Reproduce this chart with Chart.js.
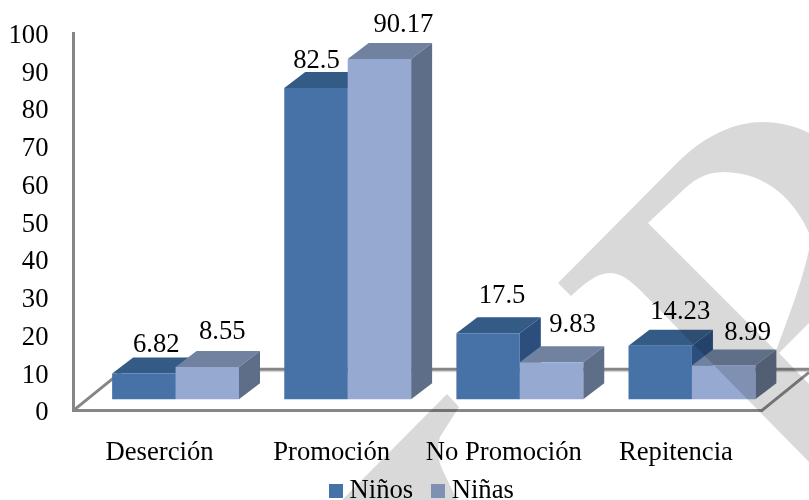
<!DOCTYPE html>
<html>
<head>
<meta charset="utf-8">
<style>
  html, body { margin: 0; padding: 0; background: #fff; }
  canvas { display: block; }
</style>
<script src="https://cdn.jsdelivr.net/npm/chart.js@4/dist/chart.umd.min.js"></script>
</head>
<body>
<canvas id="myChart" width="809" height="500"></canvas>
<script>
// Chart data
const categories = ['Deserción', 'Promoción', 'No Promoción', 'Repitencia'];
const ninos = [6.82, 82.5, 17.5, 14.23];
const ninas = [8.55, 90.17, 9.83, 8.99];
const seriesNames = ['Niños', 'Niñas'];

const axisGray = '#868686';
const frontColors = ['#4672A8', '#95A9D1'];
const topColors = ['#345A86', '#70829F'];
const sideColors = ['#2B4E7C', '#5F6E88'];

// 3D look: the bars stand in the middle of the floor, the faces go back by depthX/depthY
const barShiftX = 16, barShiftY = -11;
const depthX = 21, depthY = -16;
const floorX = 47, floorY = -38;

// Value labels were dragged by hand in the original, so each has its own nudge
const labelNudges = [
    [[12.5, -29], [0.5, -27], [14, -37], [20, -34]],
    [[15, -35], [24, -34], [21, -37], [24, -32]]
];

const swatch = (color) => {
    const c = document.createElement('canvas');
    c.width = 14;
    c.height = 14;
    const g = c.getContext('2d');
    g.fillStyle = color;
    g.fillRect(0, 0, 14, 14);
    return c;
};

// Floor lines, top and side faces of the bars, then shift everything to the middle of the floor
const floorPlugin = {
    id: 'floor',
    beforeDatasetsDraw(chart) {
        const { ctx, chartArea: a } = chart;
        const backY = a.bottom + floorY - 3;
        ctx.save();
        ctx.strokeStyle = '#D9D9D9';
        ctx.lineWidth = 2;
        ctx.beginPath();
        ctx.moveTo(a.left + floorX, backY + 2);
        ctx.lineTo(chart.width, backY + 2);
        ctx.stroke();
        ctx.strokeStyle = axisGray;
        ctx.lineWidth = 3;
        ctx.beginPath();
        ctx.moveTo(a.left + floorX, backY);
        ctx.lineTo(chart.width, backY);
        ctx.stroke();
        ctx.beginPath();
        ctx.moveTo(a.left, a.bottom);
        ctx.lineTo(a.left + floorX, a.bottom + floorY);
        ctx.moveTo(a.right, a.bottom);
        ctx.lineTo(a.right + floorX, a.bottom + floorY);
        ctx.stroke();
        ctx.restore();
        ctx.save();
        ctx.translate(barShiftX, barShiftY);
        chart.data.datasets.forEach((ds, i) => {
            chart.getDatasetMeta(i).data.forEach((bar) => {
                const left = bar.x - bar.width / 2;
                const right = bar.x + bar.width / 2;
                ctx.fillStyle = topColors[i];
                ctx.beginPath();
                ctx.moveTo(left, bar.y);
                ctx.lineTo(left + depthX, bar.y + depthY);
                ctx.lineTo(right + depthX, bar.y + depthY);
                ctx.lineTo(right, bar.y);
                ctx.fill();
                ctx.fillStyle = sideColors[i];
                ctx.beginPath();
                ctx.moveTo(right, bar.y);
                ctx.lineTo(right + depthX, bar.y + depthY);
                ctx.lineTo(right + depthX, bar.base + depthY);
                ctx.lineTo(right, bar.base);
                ctx.fill();
            });
        });
    },
    afterDatasetsDraw(chart) {
        chart.ctx.restore();
    }
};

const valueLabelPlugin = {
    id: 'valueLabels',
    afterDraw(chart) {
        const ctx = chart.ctx;
        ctx.save();
        ctx.font = '26.67px "Liberation Serif"';
        ctx.fillStyle = '#000';
        ctx.textAlign = 'center';
        ctx.textBaseline = 'middle';
        chart.data.datasets.forEach((ds, i) => {
            chart.getDatasetMeta(i).data.forEach((bar, j) => {
                const nudge = labelNudges[i][j];
                ctx.fillText(ds.data[j], bar.x + barShiftX + nudge[0], bar.y + barShiftY + nudge[1]);
            });
        });
        ctx.restore();
    }
};

// Gray letter shapes of the watermark, multiplied over everything
const watermarkPlugin = {
    id: 'watermark',
    afterDraw(chart) {
        const ctx = chart.ctx;
        ctx.save();
        ctx.globalCompositeOperation = 'multiply';
        ctx.fillStyle = '#D9D9D9';
        ctx.beginPath();
        ctx.moveTo(558, 283);
        ctx.lineTo(677, 163);
        ctx.bezierCurveTo(705, 135, 735, 122, 763, 122);
        ctx.bezierCurveTo(780, 122, 795, 126, 809, 133);
        ctx.lineTo(809, 233);
        ctx.bezierCurveTo(797, 205, 770, 172, 723, 172);
        ctx.bezierCurveTo(705, 172, 692, 181, 680, 193);
        ctx.lineTo(648, 223);
        ctx.lineTo(776, 351);
        ctx.bezierCurveTo(785, 325, 800, 290, 809, 250);
        ctx.lineTo(809, 323);
        ctx.lineTo(779, 353);
        ctx.lineTo(809, 384);
        ctx.lineTo(809, 462);
        ctx.lineTo(640, 290);
        ctx.bezierCurveTo(630, 280, 620, 273, 610, 273);
        ctx.bezierCurveTo(597, 273, 585, 283, 571, 296);
        ctx.closePath();
        ctx.moveTo(447, 394);
        ctx.lineTo(459, 407);
        ctx.lineTo(440, 437);
        ctx.bezierCurveTo(436, 450, 438, 462, 445, 475);
        ctx.lineTo(457, 500);
        ctx.lineTo(342, 500);
        ctx.closePath();
        ctx.fill();
        ctx.restore();
    }
};

// Legend sits off-centre in the original, y tick labels a bit lower than their ticks
const nudgePlugin = {
    id: 'nudge',
    afterLayout(chart) {
        chart.legend.left += 44;
        chart.legend.right += 44;
        chart.legend.top = 452.5;
    },
    beforeDraw(chart) {
        chart.scales.y.getLabelItems().forEach((item) => {
            item.options.translation[1] += 3;
        });
    }
};

Chart.defaults.font.family = '"Liberation Serif"';
Chart.defaults.font.size = 26.67;
Chart.defaults.color = '#000';

const makeDataset = (i, values) => ({
    label: seriesNames[i],
    data: values,
    backgroundColor: frontColors[i],
    clip: false,
    categoryPercentage: 0.737,
    barPercentage: 1
});

new Chart(document.getElementById('myChart').getContext('2d'), {
    type: 'bar',
    data: {
        labels: categories,
        datasets: [makeDataset(0, ninos), makeDataset(1, ninas)]
    },
    plugins: [floorPlugin, valueLabelPlugin, watermarkPlugin, nudgePlugin],
    options: {
        responsive: false,
        animation: false,
        layout: { padding: { top: 21.5, right: 47, bottom: -34, left: 0 } },
        plugins: {
            tooltip: { enabled: false },
            legend: {
                position: 'bottom',
                labels: {
                    usePointStyle: true,
                    pointStyleWidth: 0.1,
                    padding: 25,
                    generateLabels: (chart) =>
                        Chart.defaults.plugins.legend.labels.generateLabels(chart).map((item) => ({
                            ...item,
                            pointStyle: swatch(frontColors[item.datasetIndex])
                        }))
                }
            }
        },
        scales: {
            x: {
                grid: { display: false },
                border: { color: axisGray, width: 3 },
                ticks: { padding: 19, maxRotation: 0, autoSkip: false },
                afterFit: (scale) => {
                    scale.height = 62;
                }
            },
            y: {
                min: 0,
                max: 100,
                grid: { display: false },
                border: { color: axisGray, width: 3 },
                ticks: { stepSize: 10, padding: 17 },
                afterFit: (scale) => {
                    scale.width = 73.5;
                }
            }
        }
    }
});
</script>
</body>
</html>
